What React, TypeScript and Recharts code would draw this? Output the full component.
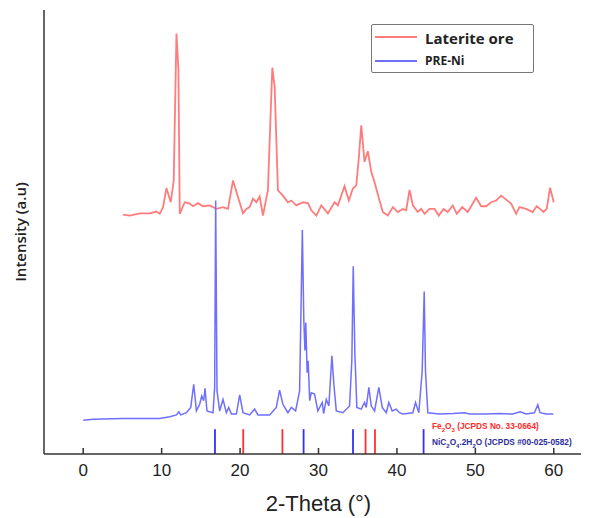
import { LineChart, Line, XAxis, YAxis, ReferenceLine } from 'recharts';

// 2-Theta (deg), intensity (a.u.)
const lateriteOre: [number, number][] = [
  [5.08, 53.9], [5.94, 53.7], [7.21, 54.2], [8.48, 54.2], [9.34, 54.6], [9.76, 54.1],
  [10.18, 55.6], [10.61, 59.9], [11.16, 56.7], [11.54, 61.6], [11.89, 94.7], [12.14, 86.5],
  [12.31, 54.1], [12.94, 56.7], [13.58, 56.4], [14.0, 55.8], [14.64, 56.5], [15.27, 55.8],
  [16.13, 56.0], [16.98, 55.2], [17.82, 55.6], [18.46, 55.2], [19.1, 61.6], [19.73, 57.9],
  [20.37, 54.2], [20.8, 55.2], [21.22, 55.6], [21.64, 57.5], [22.08, 56.7], [22.5, 58.0],
  [22.92, 53.7], [23.55, 59.4], [24.11, 87.0], [24.41, 82.7], [24.83, 59.4], [25.46, 58.2],
  [26.1, 56.7], [26.54, 57.1], [27.17, 56.0], [28.01, 56.7], [28.65, 56.5], [29.08, 54.9],
  [29.72, 53.7], [30.36, 56.0], [31.2, 54.2], [32.05, 56.7], [32.47, 56.0], [33.32, 60.3],
  [33.87, 57.1], [34.38, 59.8], [34.82, 60.5], [35.15, 66.9], [35.45, 74.0], [35.87, 65.8],
  [36.29, 68.2], [36.73, 63.5], [37.15, 61.2], [37.78, 57.1], [38.2, 54.5], [38.84, 53.7],
  [39.48, 55.6], [40.11, 54.5], [40.75, 55.2], [41.18, 54.9], [41.61, 59.5], [42.03, 56.0],
  [42.66, 54.5], [43.1, 55.2], [43.52, 54.1], [44.15, 55.2], [44.79, 55.2], [45.34, 53.7],
  [45.94, 55.2], [46.48, 54.5], [47.12, 56.0], [47.63, 54.1], [48.32, 55.6], [49.03, 54.5],
  [49.46, 55.8], [50.1, 57.7], [50.74, 55.8], [51.38, 55.8], [52.01, 56.7], [52.65, 57.1],
  [53.29, 58.2], [53.92, 57.3], [54.56, 56.4], [55.2, 54.1], [55.62, 55.6], [56.47, 55.2],
  [57.31, 54.5], [57.82, 55.8], [58.25, 55.2], [58.68, 54.5], [59.1, 55.2], [59.53, 60.0],
  [59.99, 56.7],
];

const preNi: [number, number][] = [
  [0, 7.6], [1.26, 7.8], [5.08, 8.0], [9.76, 8.0], [11.03, 8.4], [11.89, 8.8], [12.18, 9.5],
  [12.43, 8.8], [13.16, 9.3], [13.71, 10.5], [14.09, 15.7], [14.43, 9.7], [14.85, 11.2],
  [15.11, 13.1], [15.36, 12.0], [15.53, 14.8], [15.78, 9.7], [16.55, 9.3], [16.76, 15.0],
  [16.89, 57.1], [17.06, 14.2], [17.4, 9.7], [17.82, 12.3], [18.25, 9.3], [18.55, 10.5],
  [18.89, 9.0], [19.53, 9.0], [19.95, 13.3], [20.37, 9.3], [21.22, 8.8], [21.86, 10.1],
  [22.28, 8.8], [23.77, 8.8], [24.62, 10.5], [25.04, 14.4], [25.46, 11.2], [26.1, 9.3],
  [26.54, 10.5], [27.08, 9.7], [27.59, 14.2], [27.81, 36.8], [27.94, 50.5], [28.13, 30.0],
  [28.27, 23.3], [28.38, 29.6], [28.55, 18.3], [28.68, 21.0], [28.88, 12.0], [29.08, 13.8],
  [29.5, 13.5], [29.92, 9.7], [30.48, 11.6], [30.65, 9.1], [30.99, 12.3], [31.32, 10.8],
  [31.71, 22.1], [31.96, 15.7], [32.27, 9.7], [33.11, 9.3], [33.96, 10.8], [34.25, 21.0],
  [34.43, 42.3], [34.64, 22.5], [34.89, 10.5], [35.45, 10.1], [35.87, 11.6], [36.09, 10.5],
  [36.42, 15.0], [36.73, 10.8], [37.15, 9.7], [37.69, 15.0], [38.13, 10.5], [38.64, 9.3],
  [38.97, 11.6], [39.4, 9.7], [39.91, 10.1], [40.33, 9.3], [40.75, 9.0], [42.03, 9.3],
  [42.37, 11.6], [42.79, 9.3], [43.22, 18.7], [43.48, 36.6], [43.64, 18.7], [43.94, 9.3],
  [45.43, 9.0], [47.12, 9.1], [48.61, 9.3], [49.25, 9.0], [51.38, 9.0], [53.07, 9.1],
  [54.76, 9.0], [55.71, 9.5], [56.47, 9.0], [57.53, 9.3], [57.96, 11.1], [58.25, 9.3],
  [59.02, 9.0], [59.95, 9.0],
];

// reference pattern positions
const fe2o3Peaks = [20.4, 25.4, 36.0, 37.2];
const nic2o4Peaks = [16.8, 28.1, 34.4, 43.4];
const stickHeight = 5.6;

const xTicks = [0, 10, 20, 30, 40, 50, 60];

const toPoints = (rows: [number, number][]) => rows.map(([x, y]) => ({ x, y }));

const RED = '#ff7c7c';
const BLUE = '#6f6fff';

const YLabel = (props: any) => {
  const vb = props.viewBox;
  const cx = vb.x + 12;
  const cy = vb.y + vb.height / 2;
  return (
    <text x={cx} y={cy} transform={`rotate(-90, ${cx}, ${cy})`} textAnchor="middle" dominantBaseline="central"
      fontFamily="'Open Sans', sans-serif" fontWeight={600} fontSize={15} fill="#222">
      Intensity (a.u)
    </text>
  );
};

const XLabel = (props: any) => {
  const vb = props.viewBox;
  return (
    <text x={vb.x + vb.width / 2} y={vb.y + 49} textAnchor="middle" dominantBaseline="central"
      fontFamily="'Liberation Sans', Arial, sans-serif" fontSize={22} fill="#222">
      2-Theta (°)
    </text>
  );
};

const sub = { fontSize: 6 };

export default function App() {
  return (
    <div style={{ position: 'relative', width: 581, height: 510, overflow: 'hidden' }}>
      <LineChart width={600} height={510} margin={{ top: 2, right: 15, left: 0, bottom: 0 }}>
        <XAxis xAxisId="top" orientation="top" type="number" dataKey="x" domain={[-5, 65]} height={0}
          tick={false} tickLine={false} axisLine={{ stroke: '#333', strokeWidth: 1.5 }} />
        <XAxis type="number" dataKey="x" domain={[-5, 65]} ticks={xTicks} allowDataOverflow height={64}
          tickSize={-6} tickMargin={16} tickLine={{ stroke: '#333', strokeWidth: 1.5 }}
          axisLine={{ stroke: '#333', strokeWidth: 1.5 }}
          tick={{ fill: '#222', fontSize: 17, fontFamily: "'Liberation Sans', Arial, sans-serif" }}
          label={{ content: XLabel }} />
        <YAxis type="number" domain={[0, 100]} width={36} tick={false} tickLine={false}
          axisLine={{ stroke: '#333', strokeWidth: 1.5 }} label={{ content: YLabel }} />
        <Line data={toPoints(lateriteOre)} dataKey="y" stroke={RED} strokeWidth={1.8} dot={false}
          isAnimationActive={false} />
        <Line data={toPoints(preNi)} dataKey="y" stroke={BLUE} strokeWidth={1.5} dot={false}
          isAnimationActive={false} />
        {nic2o4Peaks.map((p) => (
          <ReferenceLine key={'n' + p} segment={[{ x: p, y: 0 }, { x: p, y: stickHeight }]}
            stroke="#2f2fff" strokeWidth={1.8} />
        ))}
        {fe2o3Peaks.map((p) => (
          <ReferenceLine key={'f' + p} segment={[{ x: p, y: 0 }, { x: p, y: stickHeight }]}
            stroke="#ff3030" strokeWidth={1.8} />
        ))}
      </LineChart>

      <div style={{
        position: 'absolute', left: 363, top: 16, width: 161, height: 47,
        border: '1.5px solid #777', borderRadius: 2, background: '#fff',
        fontFamily: "'Open Sans', sans-serif", fontWeight: 700, color: '#222',
      }}>
        <div style={{ position: 'absolute', left: 3, top: 11, width: 42, height: 2, background: RED }} />
        <div style={{ position: 'absolute', left: 53, top: 2, fontSize: 15, lineHeight: '22px' }}>Laterite ore</div>
        <div style={{ position: 'absolute', left: 3, top: 35, width: 42, height: 2, background: BLUE }} />
        <div style={{ position: 'absolute', left: 53, top: 26, fontSize: 12, lineHeight: '20px' }}>PRE-Ni</div>
      </div>

      <div style={{
        position: 'absolute', left: 424, top: 412, fontFamily: "'Liberation Sans', Arial, sans-serif",
        fontSize: 8.3, fontWeight: 700, lineHeight: '12.5px', whiteSpace: 'nowrap',
      }}>
        <div style={{ color: '#ff2a2a' }}>Fe<sub style={sub}>2</sub>O<sub style={sub}>3</sub> (JCPDS No. 33-0664)</div>
        <div style={{ color: '#2c2c9c' }}>NiC<sub style={sub}>2</sub>O<sub style={sub}>4</sub>.2H<sub style={sub}>2</sub>O (JCPDS #00-025-0582)</div>
      </div>
    </div>
  );
}
